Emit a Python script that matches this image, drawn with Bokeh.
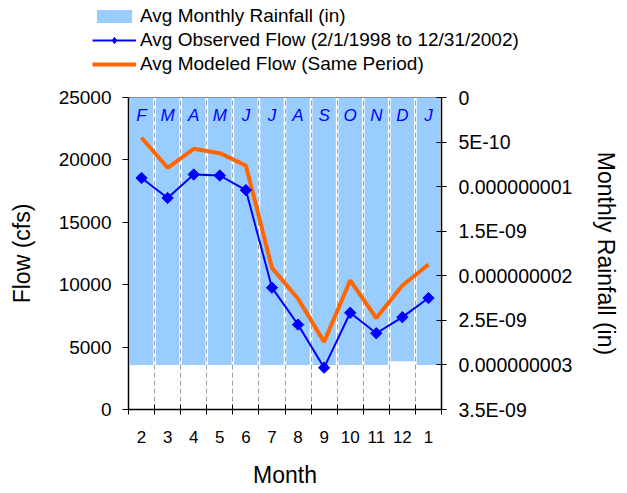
import numpy as np
from bokeh.plotting import figure
from bokeh.models import (ColumnDataSource, Range1d, LinearAxis, FixedTicker,
                          CustomJSTickFormatter, Legend, LegendItem)
from bokeh.core.properties import value
from bokeh.embed import file_html
from bokeh.resources import INLINE

# ---- data ----
month_labels = ["2", "3", "4", "5", "6", "7", "8", "9", "10", "11", "12", "1"]
month_letters = ["F", "M", "A", "M", "J", "J", "A", "S", "O", "N", "D", "J"]
rainfall = [3.0e-9, 3.0e-9, 3.0e-9, 3.0e-9, 3.0e-9, 3.0e-9,
            3.0e-9, 3.0e-9, 3.0e-9, 3.0e-9, 2.96e-9, 3.0e-9]
observed_flow = [18550, 16950, 18830, 18750, 17580, 9760,
                 6800, 3350, 7750, 6110, 7400, 8930]
modeled_flow = [21770, 19370, 20890, 20540, 19550, 11350,
                8880, 5420, 10340, 7330, 9940, 11620]
flow_ticks = [0, 5000, 10000, 15000, 20000, 25000]
rain_ticks = [0, 5e-10, 1e-9, 1.5e-9, 2e-9, 2.5e-9, 3e-9, 3.5e-9]
rain_tick_labels = ["0", "5E-10", "0.000000001", "1.5E-09", "0.000000002",
                    "2.5E-09", "0.000000003", "3.5E-09"]
legend_labels = ["Avg Monthly Rainfall (in)",
                 "Avg Observed Flow (2/1/1998 to 12/31/2002)",
                 "Avg Modeled Flow (Same Period)"]

n = len(month_labels)
xpos = list(range(1, n + 1))
boundaries = [i + 0.5 for i in range(0, n + 1)]

src = ColumnDataSource(dict(x=xpos, lab=month_labels, letter=month_letters,
                            rain=rainfall, top=[0.0] * n,
                            obs=observed_flow, mod=modeled_flow))

FONT = "Liberation Sans"
BAR_COLOR = "#99CCFF"
OBS_COLOR = "#0000FF"
MOD_COLOR = "#FF6600"

TOTAL_W = 627
TOP_H = 85

# ---------------- legend strip (top) ----------------
pl = figure(width=TOTAL_W, height=TOP_H, output_backend="svg", toolbar_location=None,
            x_range=Range1d(-100, -99), y_range=Range1d(0, 1),
            x_axis_type=None, y_axis_type=None,
            min_border_left=0, min_border_right=0, min_border_top=0, min_border_bottom=0)
pl.outline_line_color = None
pl.grid.visible = False
# legend proxies share the chart's data but sit outside this strip's visible ranges
lg_bar = pl.vbar(x="x", top="top", bottom="rain", width=0.9, source=src,
                 fill_color=BAR_COLOR, line_color=None)
lg_obs_line = pl.line(x="x", y="obs", source=src, line_color=OBS_COLOR, line_width=2)
lg_obs_pts = pl.scatter(x="x", y="obs", source=src, marker="diamond",
                        size=12, fill_color=OBS_COLOR, line_color=OBS_COLOR)
lg_mod_line = pl.line(x="x", y="mod", source=src, line_color=MOD_COLOR, line_width=4)

legend = Legend(items=[
    LegendItem(label=legend_labels[0], renderers=[lg_bar]),
    LegendItem(label=legend_labels[1], renderers=[lg_obs_line, lg_obs_pts]),
    LegendItem(label=legend_labels[2], renderers=[lg_mod_line]),
], location=(92, 10))
legend.label_text_font = FONT
legend.label_text_font_size = "19px"
legend.label_text_color = "black"
legend.glyph_width = 44
legend.glyph_height = 16
legend.label_height = 16
legend.label_standoff = 4
legend.spacing = 2
legend.padding = 0
legend.margin = 0
legend.border_line_color = None
legend.background_fill_alpha = 0
pl.add_layout(legend, "center")

# ---------------- main chart ----------------
p = figure(width=TOTAL_W, height=408, output_backend="svg", toolbar_location=None,
           x_range=Range1d(0.5, n + 0.5), y_range=Range1d(0, 25000),
           min_border_left=128, min_border_right=186,
           min_border_top=12, min_border_bottom=84)
p.extra_y_ranges = {"rain": Range1d(start=3.5e-9, end=0)}
p.background_fill_color = "white"
p.border_fill_color = "white"
p.outline_line_color = "#808080"
p.outline_line_width = 1

# grids
p.ygrid.visible = False
p.xgrid.ticker = FixedTicker(ticks=boundaries[1:-1])
p.xgrid.grid_line_color = "#a0a0a0"
p.xgrid.grid_line_dash = "5 3"
p.xgrid.grid_line_width = 1

# bars (hanging from top on reversed secondary axis)
p.vbar(x="x", top="top", bottom="rain", width=0.9, source=src,
       y_range_name="rain", fill_color=BAR_COLOR, line_color=None)

# letters inside bars
p.text(x="x", y="top", text="letter", source=src, y_range_name="rain",
       text_font=value(FONT), text_font_style="italic", text_font_size="17px",
       text_color=OBS_COLOR, text_align="center", text_baseline="top",
       y_offset=8)

# lines
p.line(x="x", y="mod", source=src, line_color=MOD_COLOR, line_width=4)
p.line(x="x", y="obs", source=src, line_color=OBS_COLOR, line_width=2)
p.scatter(x="x", y="obs", source=src, marker="square", angle=np.pi / 4,
          size=8, fill_color=OBS_COLOR, line_color=OBS_COLOR)

# x axis
xa = p.xaxis[0]
xa.ticker = FixedTicker(ticks=xpos, minor_ticks=boundaries)
xa.formatter = CustomJSTickFormatter(args=dict(vals=xpos, labels=month_labels), code="""
let best = 0;
for (let i = 0; i < vals.length; i++) {
  if (Math.abs(vals[i] - tick) < Math.abs(vals[best] - tick)) best = i;
}
return labels[best];
""")
xa.major_tick_in = 0
xa.major_tick_out = 0
xa.minor_tick_in = 5
xa.minor_tick_out = 5
xa.minor_tick_line_color = "black"
xa.axis_line_color = "black"
xa.axis_line_width = 1.5
xa.major_label_text_font = FONT
xa.major_label_text_font_size = "17px"
xa.major_label_text_color = "black"
xa.major_label_standoff = 16
xa.axis_label = "Month"
xa.axis_label_text_font = FONT
xa.axis_label_text_font_size = "23px"
xa.axis_label_text_font_style = "normal"
xa.axis_label_text_color = "black"
xa.axis_label_standoff = 16

# left axis
ya = p.yaxis[0]
ya.ticker = FixedTicker(ticks=flow_ticks)
ya.major_tick_in = 0
ya.major_tick_out = 6
ya.minor_tick_line_color = None
ya.axis_line_color = "black"
ya.axis_line_width = 1.5
ya.major_label_text_font = FONT
ya.major_label_text_font_size = "19px"
ya.major_label_text_color = "black"
ya.major_label_standoff = 11
ya.axis_label = "Flow (cfs)"
ya.axis_label_text_font = FONT
ya.axis_label_text_font_size = "23px"
ya.axis_label_text_font_style = "normal"
ya.axis_label_text_color = "black"
ya.axis_label_standoff = 21

# right axis
ra = LinearAxis(y_range_name="rain", ticker=FixedTicker(ticks=rain_ticks))
ra.formatter = CustomJSTickFormatter(args=dict(vals=rain_ticks, labels=rain_tick_labels), code="""
let best = 0;
for (let i = 0; i < vals.length; i++) {
  if (Math.abs(vals[i] - tick) < Math.abs(vals[best] - tick)) best = i;
}
return labels[best];
""")
ra.major_tick_in = 5
ra.major_tick_out = 5
ra.minor_tick_line_color = None
ra.axis_line_color = "black"
ra.axis_line_width = 1.5
ra.major_label_text_font = FONT
ra.major_label_text_font_size = "19.5px"
ra.major_label_text_color = "black"
ra.major_label_standoff = 12
ra.axis_label = "Monthly Rainfall (in)"
ra.axis_label_text_font = FONT
ra.axis_label_text_font_size = "23px"
ra.axis_label_text_font_style = "normal"
ra.axis_label_text_color = "black"
ra.axis_label_standoff = 18
p.add_layout(ra, "right")

open("out.html", "w").write(file_html([pl, p], INLINE))
